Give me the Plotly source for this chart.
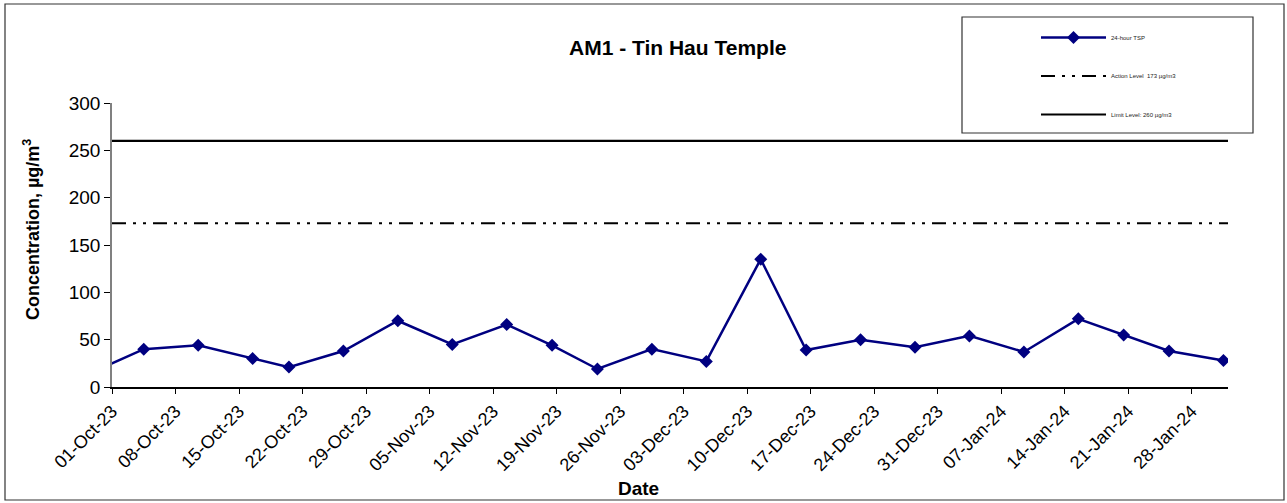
import plotly.graph_objects as go
import pandas as pd

# ---- data ----
sample_dates = [
    "2023-09-28", "2023-10-04", "2023-10-10", "2023-10-16", "2023-10-20", "2023-10-26",
    "2023-11-01", "2023-11-07", "2023-11-13", "2023-11-18", "2023-11-23", "2023-11-29",
    "2023-12-05", "2023-12-11", "2023-12-16", "2023-12-22", "2023-12-28", "2024-01-03",
    "2024-01-09", "2024-01-15", "2024-01-20", "2024-01-25", "2024-01-31",
]
tsp_values = [14, 40, 44, 30, 21, 38, 70, 45, 66, 44, 19, 40,
              27, 135, 39, 50, 42, 54, 37, 72, 55, 38, 28]
action_level = 173
limit_level = 260
axis_start = "2023-10-01"
axis_end = "2024-02-01"
tick_dates = pd.date_range("2023-10-01", "2024-01-28", freq="7D")
y_ticks = [0, 50, 100, 150, 200, 250, 300]

# Excel date axis places each day's point at the middle of the day
x_pts = pd.to_datetime(sample_dates) + pd.Timedelta(hours=12)
x_full = [axis_start, axis_end]

FONT = "Arial, Liberation Sans, sans-serif"
NAVY = "#000080"

fig = go.Figure()
fig.add_trace(go.Scatter(
    x=x_pts, y=tsp_values, mode="lines+markers", name="24-hour TSP",
    line=dict(color=NAVY, width=2.5),
    marker=dict(symbol="diamond", size=10, color=NAVY),
    legendgroup="a",
))
fig.add_trace(go.Scatter(
    x=x_full, y=[action_level, action_level], mode="lines",
    name="Action Level  173 µg/m3",
    line=dict(color="black", width=2, dash="14px,7px,3px,7px,3px,7px"),
    legendgroup="b",
))
fig.add_trace(go.Scatter(
    x=x_full, y=[limit_level, limit_level], mode="lines",
    name="Limit Level: 260 µg/m3",
    line=dict(color="black", width=2.2),
    legendgroup="c",
))

L, R, T, B = 112, 59, 103, 116
W, H = 1287, 503
pw, ph = W - L - R, H - T - B

def px(x):
    return (x - L) / pw

def py(y):
    return (H - B - y) / ph

fig.update_layout(
    width=W, height=H,
    margin=dict(l=L, r=R, t=T, b=B),
    paper_bgcolor="white", plot_bgcolor="white",
    font=dict(family=FONT, color="black"),
    showlegend=True,
    legend=dict(
        x=px(1036), y=py(23), xanchor="left", yanchor="top",
        font=dict(size=6, family=FONT, color="#222"),
        bgcolor="rgba(0,0,0,0)", borderwidth=0,
        tracegroupgap=19.5, itemwidth=65,
    ),
    xaxis=dict(
        type="date", range=x_full,
        tickvals=tick_dates, tickformat="%d-%b-%y", tickangle=-45,
        tickfont=dict(size=18, family=FONT),
        ticks="outside", ticklen=5, tickcolor="black",
        showline=True, linecolor="black", linewidth=1.5,
        showgrid=False, zeroline=False,
    ),
    yaxis=dict(
        range=[0, 300], tickvals=y_ticks,
        tickfont=dict(size=19, family=FONT),
        ticks="outside", ticklen=6, tickcolor="black",
        showline=True, linecolor="#808080", linewidth=1.5,
        showgrid=False, zeroline=False,
    ),
    shapes=[
        dict(type="rect", xref="paper", yref="paper",
             x0=px(5), x1=px(1284), y0=py(500), y1=py(4),
             line=dict(color="#333", width=1.2), fillcolor="rgba(0,0,0,0)", layer="below"),
        dict(type="rect", xref="paper", yref="paper",
             x0=px(962), x1=px(1253), y0=py(133), y1=py(17),
             line=dict(color="#333", width=1.2), fillcolor="rgba(0,0,0,0)", layer="below"),
    ],
    annotations=[
        dict(text="<b>AM1 - Tin Hau Temple</b>", xref="paper", yref="paper",
             x=px(677), y=py(48), xanchor="center", yanchor="middle",
             showarrow=False, font=dict(size=21, family=FONT)),
        dict(text="<b>Date</b>", xref="paper", yref="paper",
             x=px(638), y=py(488), xanchor="center", yanchor="middle",
             showarrow=False, font=dict(size=19, family=FONT)),
        dict(text="<b>Concentration, µg/m<sup>3</sup></b>", xref="paper", yref="paper",
             x=px(31), y=py(230), xanchor="center", yanchor="middle", textangle=-90,
             showarrow=False, font=dict(size=18, family=FONT)),
    ],
)

fig.write_html(
    "out.html",
    config={"displayModeBar": False},
    post_script="document.body.style.margin='0';document.body.style.overflow='hidden';",
)
